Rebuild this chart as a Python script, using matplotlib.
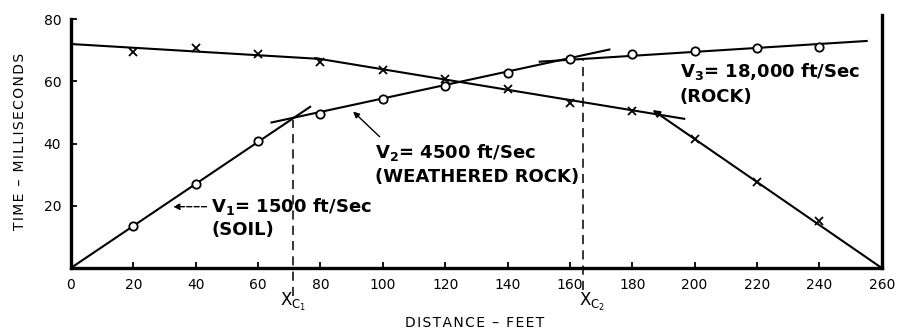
"""
Seismic refraction time-distance plot (forward and reverse shot).
Three layers: soil, weathered rock, rock. Saves out.png.
"""
import matplotlib
matplotlib.use("Agg")
import matplotlib.pyplot as plt

# Observed first arrivals
distance = [20, 40, 60, 80, 100, 120, 140, 160, 180, 200, 220, 240]
forward_time = [13.6, 27.0, 40.8, 49.6, 54.2, 58.6, 62.8, 67.1, 68.7, 69.9, 70.8, 71.2]
reverse_time = [69.5, 70.6, 68.7, 66.1, 63.7, 60.7, 57.4, 53.0, 50.5, 41.4, 27.8, 15.2]

# Hand-fitted velocity segments (endpoints in feet / ms)
fwd_v1_x, fwd_v1_y = [0, 77], [0, 52]
fwd_v2_x, fwd_v2_y = [64, 173], [46.7, 70.3]
fwd_v3_x, fwd_v3_y = [150, 255.5], [66.3, 73.0]
rev_a_x, rev_a_y = [0, 80], [72.0, 67.2]
rev_b_x, rev_b_y = [78, 197], [67.5, 47.9]
rev_c_x, rev_c_y = [260, 186.5], [0, 50.8]

# Crossover distances
xc1, xc1_top = 71.3, 47.5
xc2, xc2_top = 164.2, 67.0

x_ticks = list(range(0, 261, 20))
y_ticks = [20, 40, 60, 80]


def spaced(s):
    # old typewriter-style labels are letter spaced
    return "\u200a".join(s)


plt.rcParams["font.family"] = ["DejaVu Sans"]

fig = plt.figure(figsize=(9.09, 3.28), dpi=100)
ax = fig.add_axes([0.078, 0.183, 0.892, 0.771])

lw = 1.5
# forward shot
for xs, ys in [(fwd_v1_x, fwd_v1_y), (fwd_v2_x, fwd_v2_y), (fwd_v3_x, fwd_v3_y)]:
    ax.plot(xs, ys, color="black", lw=lw, solid_capstyle="butt")
ax.plot(distance, forward_time, "o", ms=6, mfc="white", mec="black", mew=1.3, zorder=4)

# reverse shot
for xs, ys in [(rev_a_x, rev_a_y), (rev_b_x, rev_b_y)]:
    ax.plot(xs, ys, color="black", lw=lw, solid_capstyle="butt")
ax.annotate("", xy=(rev_c_x[1], rev_c_y[1]), xytext=(rev_c_x[0], rev_c_y[0]),
            arrowprops=dict(arrowstyle="-|>", color="black", lw=lw,
                            mutation_scale=10, shrinkA=0, shrinkB=0))
ax.plot(distance, reverse_time, "x", ms=5.5, color="black", mew=1.3, zorder=4)

# crossover dashed lines
ax.plot([xc1, xc1], [-9, xc1_top], color="black", lw=1.1, ls=(0, (6, 4)), clip_on=False)
ax.plot([xc2, xc2], [-7, xc2_top], color="black", lw=1.1, ls=(0, (6, 4)), clip_on=False)
ax.text(xc1, -11, r"X$_{\mathrm{C}_1}$", ha="center", va="center", fontsize=12)
ax.text(167, -11, r"X$_{\mathrm{C}_2}$", ha="center", va="center", fontsize=12)

# velocity labels
tfont = dict(fontsize=13, fontweight="bold", va="center", ha="left")
ax.text(45, 19.7, r"V$_\mathbf{1}$= 1500 ft/Sec", **tfont)
ax.text(45, 12.2, "(SOIL)", **tfont)
ax.annotate("", xy=(32.8, 19.7), xytext=(43.5, 19.7),
            arrowprops=dict(arrowstyle="-|>", color="black", lw=1, ls="--",
                            mutation_scale=9, shrinkA=0, shrinkB=0))
ax.text(97.4, 37.0, r"V$_\mathbf{2}$= 4500 ft/Sec", **tfont)
ax.text(97.4, 29.4, "(WEATHERED ROCK)", **tfont)
ax.annotate("", xy=(90.5, 50.3), xytext=(99, 42.2),
            arrowprops=dict(arrowstyle="-|>", color="black", lw=1,
                            mutation_scale=9, shrinkA=0, shrinkB=0))
ax.text(195.2, 63.1, r"V$_\mathbf{3}$= 18,000 ft/Sec", **tfont)
ax.text(195.2, 55.0, "(ROCK)", **tfont)

# axes styling
ax.set_xlim(0, 260)
ax.set_ylim(0, 81.3)
ax.set_xticks(x_ticks)
ax.set_yticks(y_ticks)
ax.tick_params(direction="in", length=4, width=1.3, labelsize=10, pad=7)
ax.spines["top"].set_visible(False)
ax.spines["left"].set_bounds(0, 80)
for side in ["left", "bottom", "right"]:
    ax.spines[side].set_linewidth(2.4)

fig.text(0.522, 0.016, spaced("DISTANCE \u2013 FEET"), ha="center", va="center", fontsize=10)
fig.text(0.022, 0.569, spaced("TIME \u2013 MILLISECONDS"), ha="center", va="center",
         rotation=90, fontsize=10)

fig.savefig("out.png", dpi=100)
